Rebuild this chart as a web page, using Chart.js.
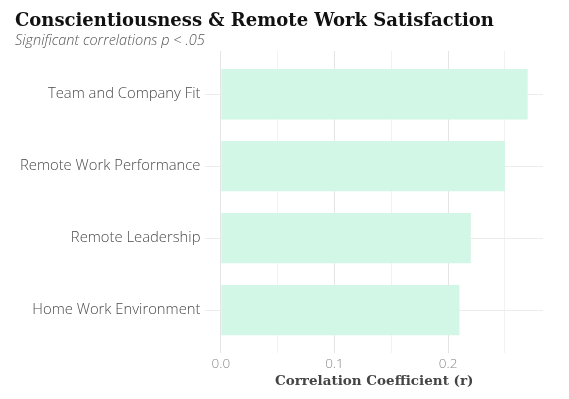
<!DOCTYPE html>
<html>
<head>
<meta charset="utf-8">
<script src="https://cdn.jsdelivr.net/npm/chart.js@4.4.1/dist/chart.umd.min.js"></script>
<style>
  html, body { margin: 0; padding: 0; background: #fff; }
  #wrap { width: 569px; height: 399px; }
</style>
</head>
<body>
<div id="wrap"><canvas id="chart"></canvas></div>
<script>
// values
const categories = ['Team and Company Fit', 'Remote Work Performance', 'Remote Leadership', 'Home Work Environment'];
const correlations = [0.27, 0.25, 0.22, 0.21];
const xTicks = [0, 0.05, 0.1, 0.15, 0.2, 0.25];

const BAR = '#d2f7e6';
const SANS = "'Open Sans', 'Lato', sans-serif";
const SERIF = "'DejaVu Serif', serif";

// ggplot-like 5% expansion on the value axis, 0.6 on the discrete axis
const xMax = Math.max(...correlations);
const xMin = 0;
const xPad = (xMax - xMin) * 0.05;

const isMajor = (v) => Math.abs(v * 10 - Math.round(v * 10)) < 1e-9;

new Chart(document.getElementById('chart').getContext('2d'), {
  type: 'bar',
  data: {
    datasets: [{
      data: categories.map((c, i) => ({ x: correlations[i], y: i })),
      backgroundColor: BAR,
      borderWidth: 0,
      barPercentage: 0.7,
      categoryPercentage: 1,
    }],
  },
  options: {
    indexAxis: 'y',
    responsive: true,
    maintainAspectRatio: false,
    animation: false,
    layout: { padding: { left: 15, right: 26, top: 11, bottom: 10 } },
    plugins: {
      legend: { display: false },
      tooltip: { enabled: false },
      title: {
        display: true,
        text: 'Conscientiousness & Remote Work Satisfaction',
        align: 'start',
        color: '#111',
        font: { family: SERIF, size: 18, weight: 'bold' },
        padding: { top: 0, bottom: 0 },
      },
      subtitle: {
        display: true,
        text: 'Significant correlations p < .05',
        align: 'start',
        color: '#555',
        font: { family: SANS, size: 14.5, style: 'italic', weight: 300 },
        padding: { top: 0, bottom: 1 },
      },
    },
    scales: {
      x: {
        type: 'linear',
        min: xMin - xPad,
        max: xMax + xPad,
        afterBuildTicks: (scale) => { scale.ticks = xTicks.map((v) => ({ value: v })); },
        border: { display: false },
        grid: {
          drawTicks: false,
          color: (ctx) => (ctx.tick && isMajor(ctx.tick.value) ? '#e4e4e4' : '#f2f2f2'),
          lineWidth: 1,
        },
        ticks: {
          padding: 4,
          color: '#8a8a8a',
          font: { family: SANS, size: 13.5, weight: 300, lineHeight: 1.0 },
          callback: (v) => (isMajor(v) ? v.toFixed(1) : ''),
          maxRotation: 0,
        },
        title: {
          display: true,
          text: 'Correlation Coefficient (r)',
          color: '#444',
          font: { family: SERIF, size: 13.5, weight: 'bold', lineHeight: 1.05 },
          padding: { top: 0, bottom: 0 },
        },
      },
      y: {
        type: 'linear',
        reverse: true,
        offset: false,
        min: -0.6,
        max: categories.length - 1 + 0.6,
        afterBuildTicks: (scale) => { scale.ticks = categories.map((c, i) => ({ value: i })); },
        border: { display: false },
        grid: { offset: false, drawTicks: false, color: '#ececec', lineWidth: 1 },
        ticks: {
          padding: 5,
          color: '#4a4a4a',
          font: { family: SANS, size: 14.8, weight: 300 },
          callback: (v) => categories[v],
        },
      },
    },
  },
});
</script>
</body>
</html>
